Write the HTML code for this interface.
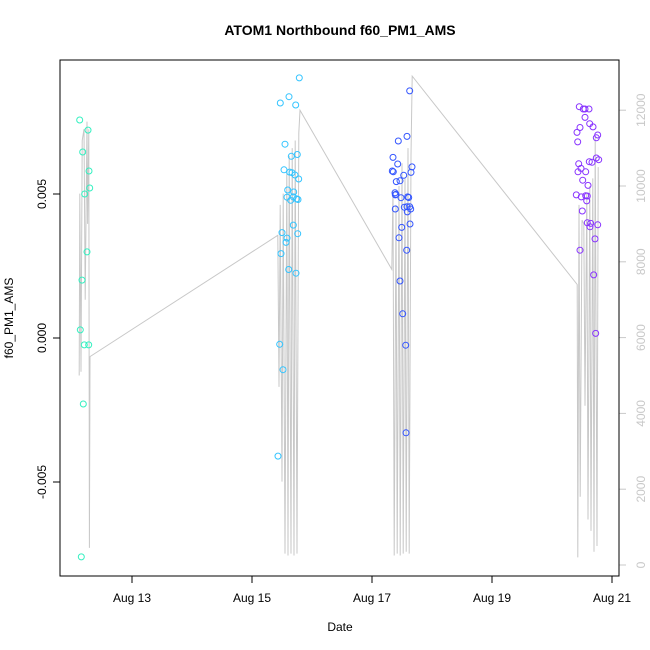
<!DOCTYPE html>
<html><head><meta charset="utf-8"><style>
html,body{margin:0;padding:0;background:#fff;}
svg{display:block;font-family:"Liberation Sans",sans-serif;}
</style></head><body>
<svg id="chart" width="650" height="650" xmlns="http://www.w3.org/2000/svg">
<text x="340" y="35" text-anchor="middle" font-size="14" font-weight="bold">ATOM1 Northbound f60_PM1_AMS</text>
<text x="340" y="631" text-anchor="middle" font-size="12">Date</text>
<text transform="translate(13,318) rotate(-90)" text-anchor="middle" font-size="12">f60_PM1_AMS</text>
<g id="gray"></g>
<g id="pts"></g>
<g id="axes"></g>
<rect x="60" y="60" width="559" height="516" fill="none" stroke="#000" stroke-width="1"/>
</svg>
<script>
const xTicks=[13,15,17,19,21];
const xTickLabels=["Aug 13","Aug 15","Aug 17","Aug 19","Aug 21"];
const yTicks=[-0.005,0,0.005];
const yTickLabels=["-0.005","0.000","0.005"];
const y2Ticks=[0,2000,4000,6000,8000,10000,12000];
const y2TickLabels=["0","2000","4000","6000","8000","10000","12000"];
const clusterColors=["#33F0C0","#33C4FF","#3355FF","#8833FF"];
const c1Day=[12.128,12.267,12.178,12.283,12.295,12.212,12.25,12.167,12.138,12.205,12.278,12.188,12.155];
const c1Val=[0.00757,0.00722,0.00646,0.0058,0.00521,0.005,0.00299,0.00201,0.00028,-0.00024,-0.00024,-0.00229,-0.0076];
const c2Day=[15.788,15.617,15.472,15.728,15.55,15.655,15.755,15.533,15.628,15.667,15.717,15.778,15.595,15.695,15.583,15.645,15.688,15.745,15.767,15.688,15.762,15.5,15.583,15.567,15.483,15.612,15.733,15.462,15.517,15.433];
const c2Val=[0.00903,0.00838,0.00816,0.00809,0.00673,0.00631,0.00637,0.00584,0.00576,0.00574,0.00566,0.00552,0.00514,0.00507,0.00489,0.00478,0.0049,0.00483,0.00481,0.00392,0.00362,0.00366,0.00347,0.00332,0.00293,0.00238,0.00225,-0.00022,-0.0011,-0.0041];
const c3Day=[17.628,17.583,17.438,17.35,17.428,17.338,17.355,17.667,17.65,17.528,17.405,17.467,17.383,17.4,17.388,17.483,17.595,17.612,17.388,17.538,17.588,17.583,17.628,17.645,17.633,17.495,17.45,17.578,17.467,17.512,17.562,17.567];
const c3Val=[0.00858,0.007,0.00684,0.00627,0.00604,0.0058,0.00577,0.00594,0.00575,0.00565,0.00543,0.00546,0.00504,0.00499,0.00497,0.00487,0.0049,0.00488,0.00448,0.00454,0.00438,0.00456,0.00456,0.00448,0.00396,0.00384,0.00348,0.00305,0.00198,0.00084,-0.00025,-0.00329];
const c4Day=[20.455,20.522,20.55,20.617,20.55,20.467,20.628,20.683,20.417,20.762,20.738,20.428,20.738,20.778,20.622,20.667,20.445,20.483,20.433,20.562,20.512,20.6,20.405,20.488,20.562,20.588,20.578,20.505,20.588,20.645,20.633,20.762,20.717,20.467,20.695,20.728];
const c4Val=[0.00803,0.00795,0.00795,0.00795,0.00766,0.00731,0.00744,0.00733,0.00714,0.00705,0.00695,0.00681,0.00625,0.00619,0.00612,0.0061,0.00605,0.00589,0.00577,0.00577,0.00548,0.0053,0.00497,0.0049,0.00494,0.00493,0.00476,0.00441,0.004,0.00398,0.00386,0.00393,0.00344,0.00305,0.00219,0.00016];
const grayDay=[12.12,12.13,12.15,12.17,12.2,12.22,12.25,12.26,12.28,12.29,12.3,15.43,15.45,15.47,15.5,15.52,15.55,15.58,15.6,15.62,15.65,15.67,15.7,15.72,15.75,15.78,15.8,17.33,17.35,17.37,17.4,17.42,17.45,17.47,17.5,17.52,17.55,17.57,17.6,17.62,17.65,17.67,20.42,20.43,20.45,20.47,20.5,20.53,20.55,20.58,20.6,20.63,20.65,20.68,20.7,20.72,20.75,20.77];
const grayCount=[5000,9800,5100,11200,11500,7000,11700,9000,11500,450,5500,8700,4700,9500,2200,9800,300,10400,250,10800,300,11000,250,11200,300,11400,12000,7800,9900,250,9500,300,10000,250,10600,300,10200,350,11000,300,10800,12900,7400,200,9500,1800,9100,9000,4200,9800,1200,10000,900,10200,350,11300,500,10500];

const NS="http://www.w3.org/2000/svg";
const xS=d=>132+(d-13)*60;
const yS=v=>338-v/0.005*144;
const y2S=c=>565-c/2000*75.8;
function mk(tag,attrs,parent){const e=document.createElementNS(NS,tag);for(const k in attrs)e.setAttribute(k,attrs[k]);parent.appendChild(e);return e;}
const gray=document.getElementById('gray');
const line=mk('polyline',{points:grayDay.map((d,i)=>xS(d).toFixed(1)+','+y2S(grayCount[i]).toFixed(1)).join(' '),fill:'none',stroke:'#c8c8c8','stroke-width':1},gray);


const pts=document.getElementById('pts');
[[c1Day,c1Val],[c2Day,c2Val],[c3Day,c3Val],[c4Day,c4Val]].forEach((c,ci)=>{
 c[0].forEach((d,i)=>{
  const p=mk('circle',{cx:xS(d).toFixed(1),cy:yS(c[1][i]).toFixed(1),r:3,fill:'none',stroke:clusterColors[ci],'stroke-width':1},pts);
  
  
 });
});
const ax=document.getElementById('axes');
xTicks.forEach((t,i)=>{
 const x=xS(t);
 const tk=mk('line',{x1:x,x2:x,y1:576,y2:583,stroke:'#000'},ax);
 
 
 const tx=mk('text',{x:x,y:602,'text-anchor':'middle','font-size':12},ax);
 tx.textContent=xTickLabels[i];
 
 
});
yTicks.forEach((t,i)=>{
 const y=yS(t);
 const tk=mk('line',{x1:53,x2:60,y1:y,y2:y,stroke:'#000'},ax);
 
 
 const tx=mk('text',{transform:`translate(46,${y}) rotate(-90)`,'text-anchor':'middle','font-size':12},ax);
 tx.textContent=yTickLabels[i];
 
 
});
y2Ticks.forEach((t,i)=>{
 const y=y2S(t);
 const tk=mk('line',{x1:619,x2:626,y1:y,y2:y,stroke:'#c8c8c8'},ax);
 
 
 const tx=mk('text',{transform:`translate(645,${y}) rotate(-90)`,'text-anchor':'middle','font-size':12,fill:'#c8c8c8'},ax);
 tx.textContent=y2TickLabels[i];
 
 
});
</script>
</body></html>
